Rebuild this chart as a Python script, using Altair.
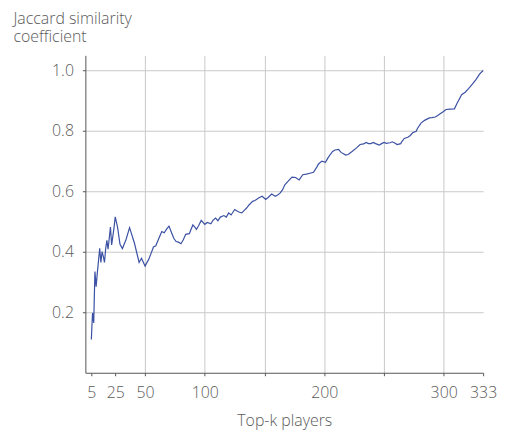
import altair as alt
import pandas as pd

k_values = [5, 6, 7, 8, 9, 10, 11, 12, 13, 14, 15, 16, 17, 18, 19, 21, 22, 24, 25, 27, 29, 31, 34, 37, 41,
            45, 47, 50, 53, 55, 57, 59, 60, 62, 64, 66, 68, 70, 72, 74, 76, 78, 80, 82, 84, 87, 90, 92, 93,
            95, 97, 100, 102, 105, 107, 109, 111, 113, 116, 118, 120, 122, 125, 127, 129, 131, 133, 135, 137,
            140, 142, 145, 148, 151, 153, 156, 159, 161, 163, 165, 167, 170, 173, 176, 179, 182, 185, 188,
            191, 194, 195, 198, 201, 203, 205, 207, 209, 212, 214, 218, 220, 223, 227, 230, 233, 235, 237,
            239, 241, 243, 246, 248, 250, 252, 255, 257, 259, 261, 264, 265, 267, 270, 272, 274, 277, 278,
            281, 284, 288, 290, 293, 295, 297, 299, 302, 305, 309, 311, 313, 315, 318, 321, 324, 327, 330, 333]
jaccard = [0.110, 0.198, 0.165, 0.335, 0.285, 0.330, 0.370, 0.412, 0.365, 0.401, 0.385, 0.365, 0.410, 0.438,
           0.409, 0.482, 0.423, 0.480, 0.516, 0.480, 0.425, 0.411, 0.440, 0.480, 0.430,
           0.365, 0.379, 0.353, 0.375, 0.395, 0.416, 0.420, 0.430, 0.449, 0.467, 0.463, 0.475, 0.485, 0.465,
           0.445, 0.434, 0.432, 0.427, 0.440, 0.458, 0.460, 0.489, 0.480, 0.474,
           0.488, 0.504, 0.491, 0.497, 0.493, 0.505, 0.512, 0.503, 0.515, 0.520, 0.515, 0.529, 0.522, 0.540,
           0.535, 0.531, 0.529, 0.537, 0.545, 0.555,
           0.567, 0.570, 0.578, 0.584, 0.573, 0.580, 0.591, 0.584, 0.588, 0.594, 0.605, 0.622, 0.635, 0.647,
           0.646, 0.638, 0.655, 0.657, 0.660,
           0.663, 0.682, 0.690, 0.700, 0.696, 0.710, 0.722, 0.732, 0.737, 0.739, 0.729, 0.720, 0.722, 0.731,
           0.744, 0.755, 0.757, 0.762, 0.758,
           0.758, 0.762, 0.758, 0.753, 0.758, 0.762, 0.759, 0.761, 0.764, 0.760, 0.755, 0.758, 0.765, 0.775,
           0.779, 0.785, 0.794, 0.799, 0.808,
           0.826, 0.835, 0.843, 0.844, 0.846, 0.851, 0.857, 0.862, 0.871, 0.872, 0.873, 0.890, 0.905, 0.920,
           0.928, 0.941, 0.955, 0.970, 0.988, 1.000]

x_ticks = [5, 25, 50, 100, 150, 200, 250, 300, 333]
x_labels_shown = [5, 25, 50, 100, 200, 300, 333]
x_no_grid = [5, 25, 333]
y_ticks = [0.2, 0.4, 0.6, 0.8, 1.0]

df = pd.DataFrame({"k": k_values, "j": jaccard})

FONT = "Open Sans"
TXT = "#5a5a5a"

label_test = " && ".join(f"datum.value != {v}" for v in x_labels_shown)
grid_test = " || ".join(f"datum.value == {v}" for v in x_no_grid)

chart = alt.Chart(df).mark_line(color="#3b51a3", strokeWidth=1.2).encode(
    x=alt.X("k:Q", scale=alt.Scale(domain=[0, 333], nice=False, zero=False),
            axis=alt.Axis(values=x_ticks, title="Top-k players",
                          labelExpr=f"({label_test}) ? '' : datum.label",
                          labelFlush=False, labelOverlap=False,
                          gridOpacity={"condition": {"test": grid_test, "value": 0}, "value": 1},
                          titlePadding=12, labelPadding=9)),
    y=alt.Y("j:Q", scale=alt.Scale(domain=[0, 1.05], nice=False),
            axis=alt.Axis(values=y_ticks, format=".1f",
                          title=["Jaccard similarity", "coefficient"],
                          titleAngle=0, titleAlign="left", titleBaseline="alphabetic",
                          titleX=-73, titleY=-32, titleLineHeight=18,
                          labelPadding=9)),
).properties(
    width=401, height=320,
    padding={"left": 5, "top": 1, "right": 0, "bottom": 5},
).configure_axis(
    labelFont=FONT, titleFont=FONT, labelFontSize=16, titleFontSize=16,
    labelColor=TXT, titleColor=TXT, labelFontWeight=300, titleFontWeight=300,
    domainColor="#555555", tickColor="#555555", tickSize=3,
    gridColor="#c8c8c8", gridWidth=1,
).configure_view(stroke=None)

chart.save("out.html", embed_options={"renderer": "svg", "actions": False})
